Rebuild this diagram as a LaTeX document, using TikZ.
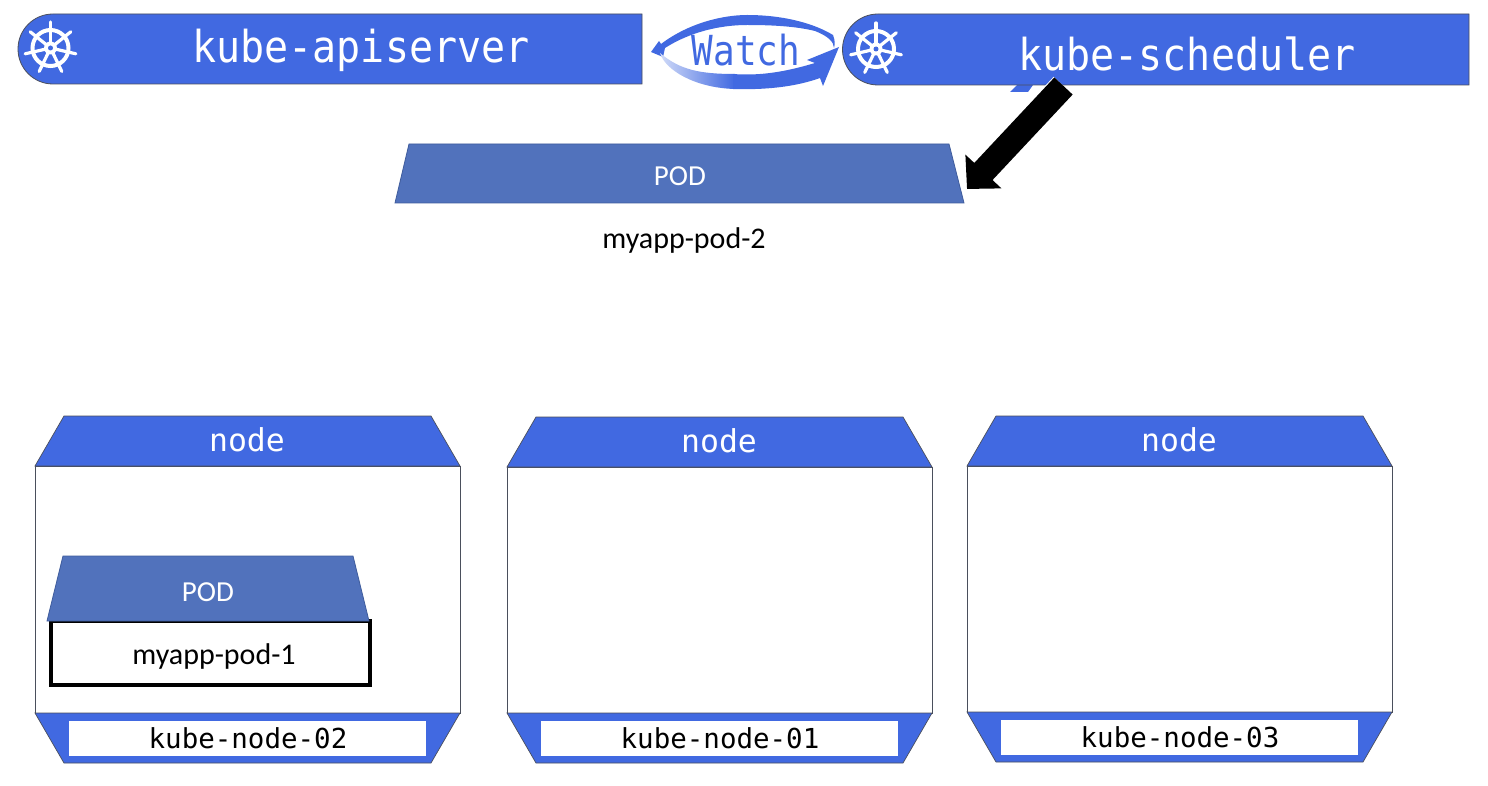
\documentclass[tikz,border=0pt]{standalone}
\usepackage{fontspec}
\usepackage{xcolor}
\setmainfont{Carlito}
\newfontfamily\monofont{DejaVu Sans Mono}
\usetikzlibrary{arrows.meta,calc}
\definecolor{kubeblue}{HTML}{4169E1}
\definecolor{podblue}{HTML}{5172BC}
\definecolor{podedge}{HTML}{3F5C9C}
\definecolor{edgegray}{HTML}{4A4F5C}
\tikzset{
  banner/.style={fill=kubeblue,draw=edgegray,line width=0.8pt},
  bannertext/.style={text=white,font=\monofont\fontsize{40}{48}\selectfont},
  nodeshape/.style={fill=kubeblue,draw=edgegray,line width=0.7pt},
  nodetext/.style={text=white,font=\monofont\fontsize{31.5}{36}\selectfont},
  hosttext/.style={text=black,font=\monofont\fontsize{27.5}{32}\selectfont},
  podshape/.style={fill=podblue,draw=podedge,line width=0.8pt},
  podtext/.style={text=white,font=\fontsize{29}{32}\selectfont},
  podname/.style={text=black,font=\fontsize{30}{34}\selectfont},
  wheelline/.style={draw=white,line cap=round},
}
\newcommand{\kubewheel}[2]{%
  \draw[wheelline,line width=4pt] (#1,#2) circle (18pt);
  \foreach \spokeangle in {90,141.4,192.9,244.3,295.7,347.1,38.6}
    \draw[wheelline,line width=3.2pt] (#1,#2) -- ++(\spokeangle:26pt);
  \fill[white] (#1,#2) circle (6.5pt);
  \fill[kubeblue] (#1,#2) circle (2.5pt);
}
\begin{document}
\begin{tikzpicture}[x=1pt,y=-1pt]
  \useasboundingbox (0,0) rectangle (1488,786);
  \fill[white] (0,0) rectangle (1488,786);
  % top banners
  \draw[banner] (642,14) -- (53,14) arc (90:270:35pt) -- (642,84) -- cycle;
  \kubewheel{50.5}{48}
  \node[bannertext] (apiserver) at (361,50) {\scalebox{1}[1.1]{kube-apiserver}};
  \fill[kubeblue] (1017,85) -- (1033,85) -- (1028,92) -- (1010,92) -- cycle;
  \draw[banner] (1469,14) -- (878,14) arc (90:270:35.5pt) -- (1469,85) -- cycle;
  \kubewheel{876}{49}
  \node[bannertext] (scheduler) at (1187,54) {\scalebox{1}[1.1]{kube-scheduler}};
  % watch arrows
  \fill[kubeblue] (651,52) -- (659,41) -- (661,44)
    .. controls (690,22) and (725,15) .. (747,15)
    .. controls (785,15) and (815,24) .. (833,35)
    .. controls (835,40) and (835,44) .. (834,48)
    .. controls (834,42) and (828,36) .. (815,31)
    .. controls (795,26) and (770,25) .. (747,25)
    .. controls (720,25) and (690,32) .. (665,48) -- (663,57) -- cycle;
  \shade[left color=kubeblue!25,right color=kubeblue] (660,53)
    .. controls (665,70) and (695,88) .. (735,89) -- (735,74)
    .. controls (700,74) and (680,70) .. (660,53) -- cycle;
  \fill[kubeblue] (733,74) .. controls (760,76) and (785,72) .. (815,63)
    -- (807,60) -- (839,47) -- (823,86) -- (820,78)
    .. controls (795,87) and (765,90) .. (733,89) -- cycle;
  \node[text=kubeblue,font=\monofont\fontsize{36}{40}\selectfont] (watch) at (746,50) {\scalebox{1}[1.15]{Watch}};
  % pending pod
  \draw[podshape] (409,144) -- (949,144) -- (964,203) -- (395,203) -- cycle;
  \node[podtext] (podtwo) at (680,176) {POD};
  \node[podname] (podtwoname) at (684,240.5) {myapp-pod-2};
  \coordinate (schedtail) at (1063.5,86);
  \coordinate (podtip) at (967,189);
  \draw[white,line width=27pt,-{Triangle[length=25pt,width=51pt]}] (schedtail) -- (podtip);
  \draw[black,line width=25pt,-{Triangle[length=24pt,width=48pt]}] (schedtail) -- (podtip);
  % worker nodes
  \foreach \nodex/\topy/\boty/\hostname in {35/416/713/kube-node-02,507/417/713/kube-node-01,967/416/712/kube-node-03}{
    \draw[draw=edgegray,line width=0.7pt,fill=white] (\nodex,\topy+50) rectangle (\nodex+425,\boty);
    \draw[nodeshape] (\nodex+29,\topy) -- (\nodex+396,\topy) -- (\nodex+425,\topy+50) -- (\nodex,\topy+50) -- cycle;
    \node[nodetext] (title\hostname) at (\nodex+212,\topy+24) {node};
    \draw[nodeshape] (\nodex,\boty) -- (\nodex+425,\boty) -- (\nodex+396,\boty+50) -- (\nodex+29,\boty+50) -- cycle;
    \fill[white] (\nodex+33.5,\boty+8) rectangle (\nodex+391,\boty+43);
    \node[hosttext] (\hostname) at (\nodex+213,\boty+25) {\hostname};
  }
  % scheduled pod
  \draw[black,line width=4pt,fill=white] (51,621) rectangle (370,685);
  \draw[podshape] (63,556) -- (353,556) -- (369,621) -- (47,621) -- cycle;
  \node[podtext] (podone) at (208,592) {POD};
  \node[podname] (podonename) at (214,656) {myapp-pod-1};
\end{tikzpicture}
\end{document}
